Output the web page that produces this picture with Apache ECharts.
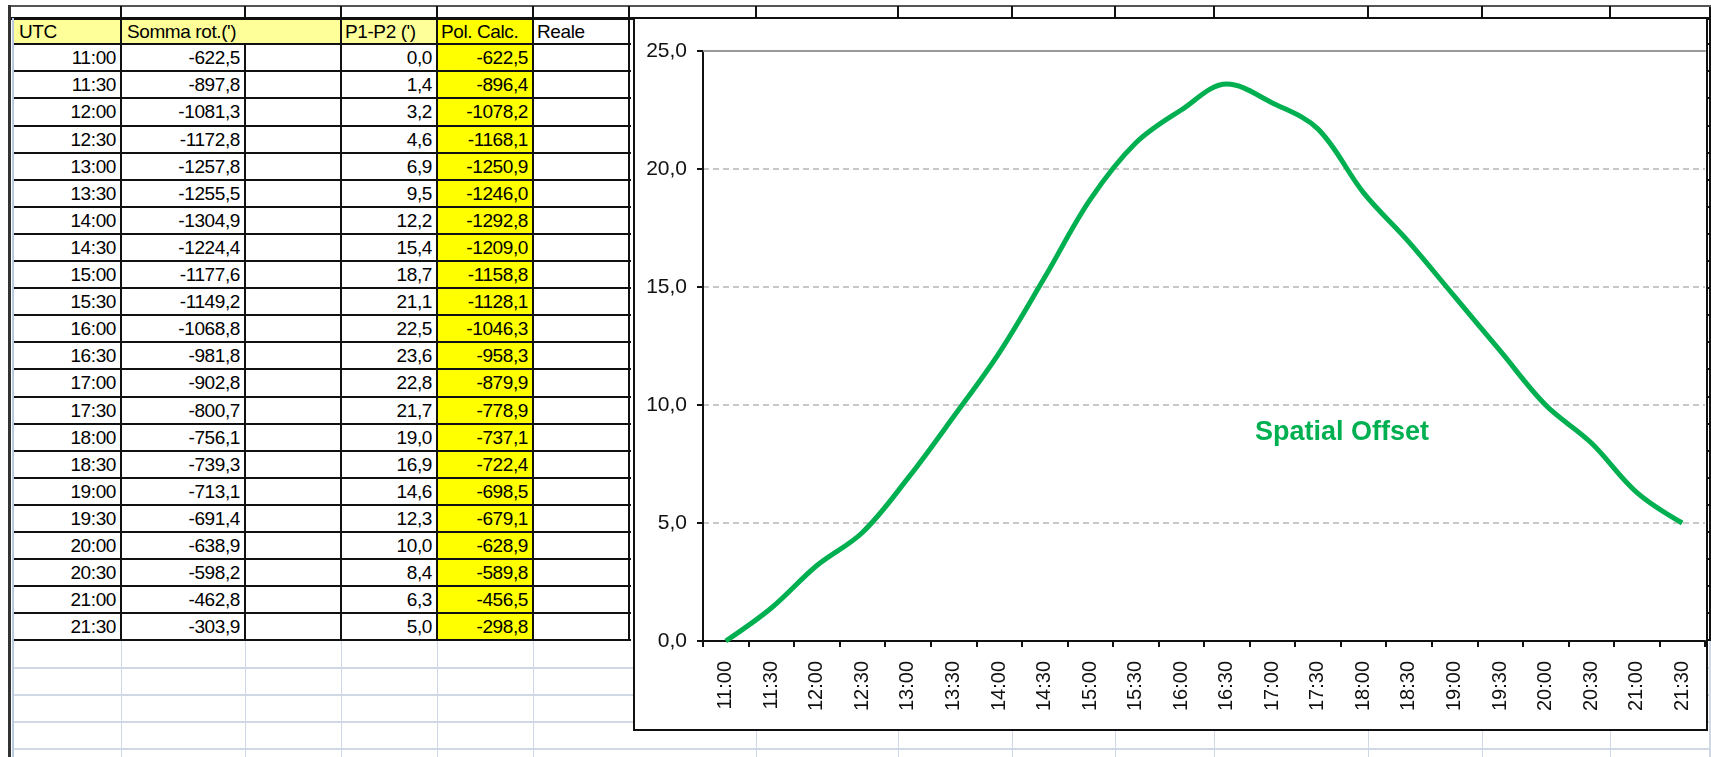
<!DOCTYPE html>
<html><head><meta charset="utf-8">
<script src="https://cdn.jsdelivr.net/npm/echarts@6/dist/echarts.min.js"></script>
<style>
html,body{margin:0;padding:0;background:#fff;}
#sheet{position:relative;width:1711px;height:757px;overflow:hidden;background:#fff;font-family:"Liberation Sans",Arial,sans-serif;}
.l{position:absolute;}
.c{position:absolute;box-sizing:border-box;font-size:19px;letter-spacing:-0.4px;line-height:1;display:flex;align-items:center;white-space:nowrap;color:#000;overflow:visible;}
#frame{position:absolute;left:633px;top:17px;width:1075px;height:714px;box-sizing:border-box;border:2px solid #111;background:#fff;z-index:10;}
#chart{position:absolute;left:0;top:0;width:1071px;height:710px;}
</style></head><body>
<div id="sheet"><div id="frame"><div id="chart"></div></div></div>
<script>
// ---- data ----
const headers = ["UTC", "Somma rot.(')", "P1-P2 (')", "Pol. Calc.", "Reale"];
const times = ['11:00','11:30','12:00','12:30','13:00','13:30','14:00','14:30','15:00','15:30','16:00','16:30','17:00','17:30','18:00','18:30','19:00','19:30','20:00','20:30','21:00','21:30'];
const sommaRot = [-622.5,-897.8,-1081.3,-1172.8,-1257.8,-1255.5,-1304.9,-1224.4,-1177.6,-1149.2,-1068.8,-981.8,-902.8,-800.7,-756.1,-739.3,-713.1,-691.4,-638.9,-598.2,-462.8,-303.9];
const p1p2 = [0.0,1.4,3.2,4.6,6.9,9.5,12.2,15.4,18.7,21.1,22.5,23.6,22.8,21.7,19.0,16.9,14.6,12.3,10.0,8.4,6.3,5.0];
const polCalc = [-622.5,-896.4,-1078.2,-1168.1,-1250.9,-1246.0,-1292.8,-1209.0,-1158.8,-1128.1,-1046.3,-958.3,-879.9,-778.9,-737.1,-722.4,-698.5,-679.1,-628.9,-589.8,-456.5,-298.8];
const seriesName = 'Spatial Offset';

// ---- sheet drawing ----
const sheet = document.getElementById('sheet');
const frame = document.getElementById('frame');
function box(x,y,w,h,bg){const d=document.createElement('div');d.className='l';d.style.cssText=`left:${x}px;top:${y}px;width:${w}px;height:${h}px;background:${bg}`;sheet.insertBefore(d,frame);return d;}
function cell(x1,x2,y1,y2,text,align,bg){const d=document.createElement('div');d.className='c';
  d.style.cssText=`left:${x1}px;top:${y1}px;width:${x2-x1}px;height:${y2-y1}px;justify-content:${align==='r'?'flex-end':'flex-start'};padding:${align==='r'?'0 5px 0 0':'0 0 0 6px'};${bg?'background:'+bg+';':''}`;
  d.textContent=text;sheet.insertBefore(d,frame);return d;}
const fmt = v => v.toFixed(1).replace('.', ',');
const colX = [13,121,245,341,437,533,629];
const otherCols = [756,898,1012,1115,1214,1368,1482,1610];
const headTop = 18, row0 = 44.2, rowH = 27.1, n = times.length;
const rowY = i => row0 + i*rowH;
const lastY = rowY(n);
const light = '#d0d7e5';

// light grid below table
for (let k=1;k<=5;k++){ box(12, lastY + k*rowH - 0.5, 1699, 1.5, light); }
[121,245,341,437,533].forEach(x=>box(x-0.5, lastY, 1.5, 757-lastY, light));
otherCols.forEach(x=>box(x-0.5, 18, 1.5, 739, light));
box(1709, lastY, 1.5, 757-lastY, light);

// header cells
cell(colX[0],colX[1],headTop,row0,headers[0],'l','#ffff99');
cell(colX[1],colX[3],headTop,row0,headers[1],'l','#ffff99');
cell(colX[3],colX[4],headTop,row0,headers[2],'l','#ffff99').style.paddingLeft='4px';
cell(colX[4],colX[5],headTop,row0,headers[3],'l','#ffff00').style.paddingLeft='4px';
cell(colX[5],colX[6],headTop,row0,headers[4],'l','#ffffff').style.paddingLeft='4px';
// data cells
for (let i=0;i<n;i++){
  const y1=rowY(i), y2=rowY(i+1);
  cell(colX[0],colX[1],y1,y2,times[i],'r');
  cell(colX[1],colX[2],y1,y2,fmt(sommaRot[i]),'r');
  cell(colX[3],colX[4],y1,y2,fmt(p1p2[i]),'r');
  cell(colX[4],colX[5],y1,y2,fmt(polCalc[i]),'r','#ffff00');
}
// black borders of the table
for (let i=0;i<=n;i++){ box(12, rowY(i)-1, 619, 2, '#111'); }
[121,341,437,533,629].forEach(x=>box(x-1, headTop, 2, lastY-headTop+1, '#111'));
box(244, row0, 2, lastY-row0+1, '#111');
// right of chart: another bordered column
for (let i=0;i<=n;i++){ box(1706, rowY(i)-1, 5, 2, '#111'); }
box(1708.5, 6, 2, lastY-5, '#111');
// top row
box(9, 4.5, 1702, 2, '#555');
box(9, 17, 1702, 2.5, '#111');
colX.slice(1).concat(otherCols).forEach(x=>box(x-1, 6, 2, 12, '#111'));
// window edge on the left
box(8, 5, 2.5, 752, '#333');
box(12, 18, 1.5, 739, '#b9c9e0');

// ---- chart ----
const chart = echarts.init(document.getElementById('chart'), null, {renderer:'canvas'});
const font = '"Liberation Sans", Arial, sans-serif';
chart.setOption({
  animation:false,
  backgroundColor:'#fff',
  grid:{left:68, right:1, top:32, bottom:88, containLabel:false},
  xAxis:[{
    type:'category', data:times, boundaryGap:true, position:'bottom',
    axisLine:{onZero:false, lineStyle:{color:'#111', width:2}},
    axisTick:{show:true, interval:0, length:6, lineStyle:{color:'#111', width:2}},
    axisLabel:{interval:0, rotate:90, fontSize:20, fontFamily:font, color:'#111', margin:20},
    splitLine:{show:false}
  },{
    type:'category', data:times, boundaryGap:true, position:'top',
    axisLine:{onZero:false, lineStyle:{color:'#9a9a9a', width:2}},
    axisTick:{show:false}, axisLabel:{show:false}, splitLine:{show:false}
  }],
  yAxis:{
    type:'value', min:0, max:25, interval:5,
    axisLine:{show:true, lineStyle:{color:'#111', width:2}},
    axisTick:{show:true, length:6, lineStyle:{color:'#111', width:2}},
    axisLabel:{formatter:v=>fmt(v), fontSize:21, fontFamily:font, color:'#111', margin:16},
    splitLine:{show:true, lineStyle:{type:[6,4], color:'#c8c8c8', width:2}}
  },
  series:[{
    name:seriesName, type:'line', data:p1p2, xAxisIndex:0,
    smooth:0.35, symbol:'none',
    lineStyle:{color:'#00b050', width:5}
  }],
  graphic:[{
    type:'text', x:620, y:414, z:100,
    style:{text:seriesName, fill:'#00b050', font:'bold 27px "Liberation Sans", Arial, sans-serif', verticalAlign:'middle', align:'left'}
  }]
});
</script>
</body></html>
